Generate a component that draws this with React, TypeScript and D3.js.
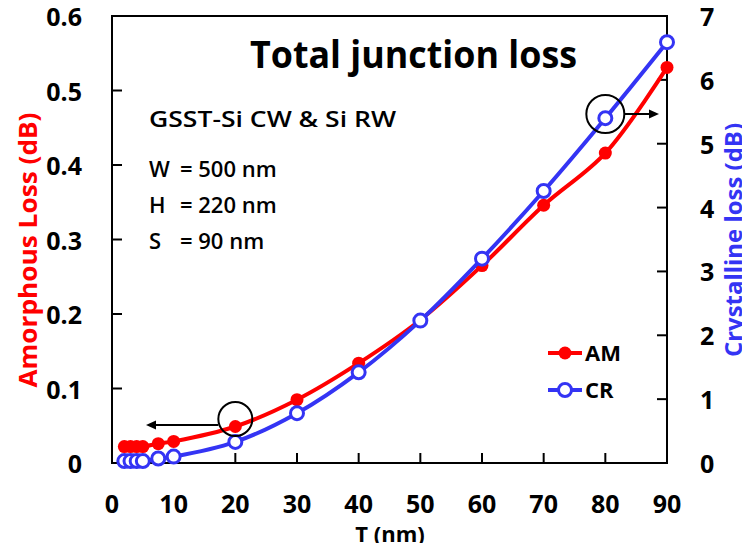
import React from "react";
import * as d3 from "d3";

const thickness = [2, 3, 4, 5, 7.5, 10, 20, 30, 40, 50, 60, 70, 80, 90];
const amLoss = [0.022, 0.022, 0.022, 0.022, 0.026, 0.029, 0.049, 0.085, 0.134, 0.192, 0.265, 0.346, 0.416, 0.531];
const crLoss = [0.03, 0.03, 0.03, 0.03, 0.07, 0.1, 0.33, 0.78, 1.42, 2.23, 3.2, 4.26, 5.4, 6.59];
const xTicks = [0, 10, 20, 30, 40, 50, 60, 70, 80, 90];
const leftTicks = [0, 0.1, 0.2, 0.3, 0.4, 0.5, 0.6];
const rightTicks = [0, 1, 2, 3, 4, 5, 6, 7];
const infoParams = [
  ["W", "= 500 nm"],
  ["H", "= 220 nm"],
  ["S", "= 90 nm"],
];

const RED = "#ff0000";
const BLUE = "#3434f4";
const FONT = "'Open Sans', 'DejaVu Sans', sans-serif";

export default function App() {
  const W = 750, H = 551;
  const L = 112, R = 667, T = 16, B = 463;
  const x = d3.scaleLinear().domain([0, 90]).range([L, R]);
  const yL = d3.scaleLinear().domain([0, 0.6]).range([B, T]);
  const yR = d3.scaleLinear().domain([0, 7]).range([B, T]);

  const amPts: [number, number][] = thickness.map((t, i) => [x(t), yL(amLoss[i])]);
  const crPts: [number, number][] = thickness.map((t, i) => [x(t), yR(crLoss[i])]);
  const line = d3.line().curve(d3.curveCatmullRom.alpha(0.5));

  const tickLen = 10;

  return (
    <div style={{ margin: -8 }}>
      <svg width={W} height={H} style={{ display: "block", background: "#fff" }}>
        {/* frame */}
        <rect x={L} y={T} width={R - L} height={B - T} fill="none" stroke="#000" strokeWidth={2} />
        {/* ticks */}
        {xTicks.slice(1, -1).map((t) => (
          <line key={"xt" + t} x1={x(t)} x2={x(t)} y1={B} y2={B - tickLen} stroke="#000" strokeWidth={2} />
        ))}
        {leftTicks.slice(1, -1).map((t) => (
          <line key={"lt" + t} x1={L} x2={L + tickLen} y1={yL(t)} y2={yL(t)} stroke="#000" strokeWidth={2} />
        ))}
        {rightTicks.slice(1, -1).map((t) => (
          <line key={"rt" + t} x1={R} x2={R - tickLen} y1={yR(t)} y2={yR(t)} stroke="#000" strokeWidth={2} />
        ))}
        {/* tick labels */}
        {xTicks.map((t) => (
          <text key={"xl" + t} x={x(t)} y={513} textAnchor="middle" fontFamily={FONT} fontWeight={700} fontSize={25} fill="#000">
            {t}
          </text>
        ))}
        {leftTicks.map((t) => (
          <text key={"ll" + t} x={82} y={yL(t) + 10} textAnchor="end" fontFamily={FONT} fontWeight={700} fontSize={25} fill="#000">
            {t === 0 ? "0" : d3.format(".1f")(t)}
          </text>
        ))}
        {rightTicks.map((t) => (
          <text key={"rl" + t} x={700} y={yR(t) + 10} textAnchor="start" fontFamily={FONT} fontWeight={700} fontSize={25} fill="#000">
            {t}
          </text>
        ))}
        {/* axis titles */}
        <text x={390} y={542} textAnchor="middle" fontFamily={FONT} fontWeight={700} fontSize={22} fill="#000">
          T (nm)
        </text>
        <text
          transform={`translate(37,250) rotate(-90)`}
          textAnchor="middle"
          fontFamily={FONT}
          fontWeight={700}
          fontSize={25}
          fill={RED}
          textLength={275}
          lengthAdjust="spacingAndGlyphs"
        >
          Amorphous Loss (dB)
        </text>
        <text
          transform={`translate(742,240) rotate(-90)`}
          textAnchor="middle"
          fontFamily={FONT}
          fontWeight={700}
          fontSize={24}
          fill={BLUE}
          textLength={234}
          lengthAdjust="spacingAndGlyphs"
        >
          Crystalline loss (dB)
        </text>
        {/* title and info */}
        <text x={250} y={68} fontFamily={FONT} fontWeight={700} fontSize={38} fill="#000" textLength={327} lengthAdjust="spacingAndGlyphs">
          Total junction loss
        </text>
        <text x={149} y={127} fontFamily={FONT} fontWeight={600} fontSize={22} fill="#000" textLength={247} lengthAdjust="spacingAndGlyphs">
          GSST-Si CW &amp; Si RW
        </text>
        {infoParams.map((p, i) => (
          <g key={"ip" + i}>
            <text x={149} y={177 + i * 36} fontFamily={FONT} fontWeight={600} fontSize={22} fill="#000">
              {p[0]}
            </text>
            <text x={180} y={177 + i * 36} fontFamily={FONT} fontWeight={600} fontSize={22} fill="#000">
              {p[1]}
            </text>
          </g>
        ))}
        {/* AM series */}
        <path d={line(amPts) || ""} fill="none" stroke={RED} strokeWidth={4} />
        {amPts.map((p, i) => (
          <circle key={"am" + i} cx={p[0]} cy={p[1]} r={6.5} fill={RED} />
        ))}
        {/* CR series */}
        <path d={line(crPts) || ""} fill="none" stroke={BLUE} strokeWidth={4} />
        {crPts.map((p, i) => (
          <circle key={"cr" + i} cx={p[0]} cy={p[1]} r={6.5} fill="#fff" stroke={BLUE} strokeWidth={3} />
        ))}
        {/* annotations */}
        <circle cx={x(20)} cy={419} r={17} fill="none" stroke="#000" strokeWidth={2} />
        <line x1={x(20) - 17} x2={152} y1={425} y2={425} stroke="#000" strokeWidth={2} />
        <path d={`M146,425 L156,420.5 L156,429.5 Z`} fill="#000" />
        <circle cx={x(80)} cy={114} r={19} fill="none" stroke="#000" strokeWidth={2} />
        <line x1={x(80) + 19} x2={652} y1={114} y2={114} stroke="#000" strokeWidth={2} />
        <path d={`M659,114 L649,109.5 L649,118.5 Z`} fill="#000" />
        {/* legend */}
        <line x1={548} x2={582} y1={353} y2={353} stroke={RED} strokeWidth={4} />
        <circle cx={565} cy={353} r={6.5} fill={RED} />
        <text x={585} y={361} fontFamily={FONT} fontWeight={700} fontSize={22} fill="#000">AM</text>
        <line x1={548} x2={582} y1={390} y2={390} stroke={BLUE} strokeWidth={4} />
        <circle cx={565} cy={390} r={6.5} fill="#fff" stroke={BLUE} strokeWidth={3} />
        <text x={585} y={398} fontFamily={FONT} fontWeight={700} fontSize={22} fill="#000">CR</text>
      </svg>
    </div>
  );
}
